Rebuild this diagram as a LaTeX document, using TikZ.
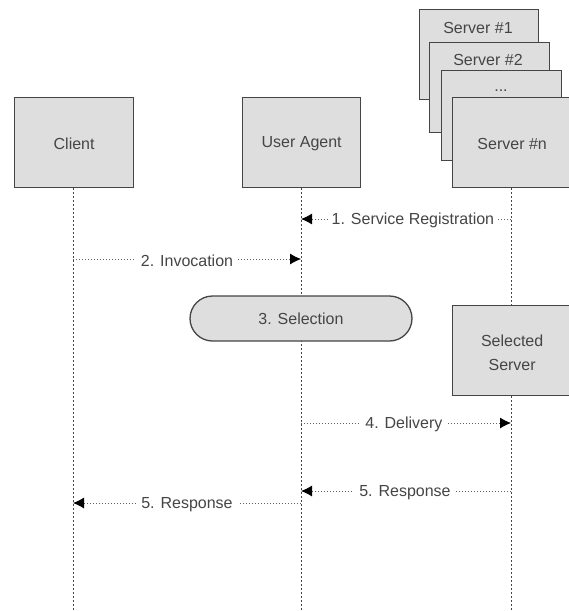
\documentclass[tikz,border=0pt]{standalone}
\usepackage{fontspec}
\setmainfont{Liberation Sans}
\usetikzlibrary{arrows.meta,shapes.misc}
\definecolor{boxfill}{HTML}{DEDEDE}
\definecolor{ink}{HTML}{454545}
\newcommand{\lowr}[1]{\rule{0pt}{#1}}
\tikzset{
 x=1pt,y=-1pt,
 actor/.style={draw=ink,line width=1.3pt,fill=boxfill,minimum width=118pt,minimum height=90pt,inner sep=0pt,text=ink,font=\fontsize{16}{24}\selectfont,align=center},
 life/.style={ink,line width=1pt,dash pattern=on 1.5pt off 2.5pt},
 msg/.style={ink!85,line width=.8pt,dash pattern=on 1.3pt off 1.7pt},
 arr/.style={msg,-{Latex[length=11pt,width=11pt,black]}},
 lbl/.style={fill=white,inner xsep=5pt,inner ysep=1pt,yshift=-1.5pt,text=ink,font=\fontsize{16}{18}\selectfont},
 stacktext/.style={text=ink,font=\fontsize{16}{18}\selectfont},
 pill/.style={draw=ink,line width=1.3pt,fill=boxfill,rounded rectangle,minimum width=222pt,minimum height=45pt,inner sep=0pt,text=ink,font=\fontsize{16}{18}\selectfont}
}
\begin{document}
\begin{tikzpicture}
\useasboundingbox (0,0) rectangle (569,611);
\coordinate (cb) at (73,611);
\coordinate (ub) at (301,611);
\coordinate (sb) at (511,611);
\coordinate (c2) at (73,259);
\coordinate (u1) at (301,219);
\coordinate (s1) at (511,219);
\coordinate (u2) at (301,259);
\coordinate (u4) at (301,423);
\coordinate (s4) at (511,423);
\coordinate (s5) at (511,491);
\coordinate (u5) at (301,491);
\coordinate (u6) at (301,503);
\coordinate (c6) at (73,503);
% stacked servers
\node[actor,minimum width=119pt,anchor=north west] (s1box) at (419,9) {};
\node[stacktext] (s1t) at (478,28) {Server \#1};
\node[actor,minimum width=120pt,anchor=north west] (s2box) at (429,42) {};
\node[stacktext] (s2t) at (488,60) {Server \#2};
\node[actor,minimum width=120pt,anchor=north west] (s3box) at (441,70) {};
\node[stacktext] (s3t) at (501,91) {...};
% lifelines
\coordinate (ct) at (73,188);
\coordinate (ut) at (301,188);
\coordinate (st) at (511,188);
\draw[life] (ct) -- (cb);
\draw[life] (ut) -- (ub);
\draw[life] (st) -- (sb);
\node[actor,anchor=north west,minimum width=119pt] (client) at (14,97) {\lowr{14pt}Client};
\node[actor,anchor=north west] (ua) at (242,97) {\lowr{14pt}User Agent};
\node[actor,anchor=north west,minimum width=119pt] (sn) at (452,97) {\lowr{14pt}Server \#n};
\node[pill] (sel) at (301,318.5) {3. Selection};
\node[actor,anchor=north west,minimum width=119pt] (ss) at (452,305) {\lowr{16pt}Selected\\Server};
% messages
\draw[arr] (s1) -- node[lbl,pos=.467,inner xsep=2.5pt] {1. Service Registration} (u1);
\draw[arr] (c2) -- node[lbl,pos=.5] {2. Invocation} (u2);
\draw[arr] (u4) -- node[lbl,pos=.49,inner xsep=6pt] {4. Delivery} (s4);
\draw[arr] (s5) -- node[lbl,pos=.505] {5. Response} (u5);
\draw[arr] (u6) -- node[lbl,pos=.5] {5. Response} (c6);
\end{tikzpicture}
\end{document}
